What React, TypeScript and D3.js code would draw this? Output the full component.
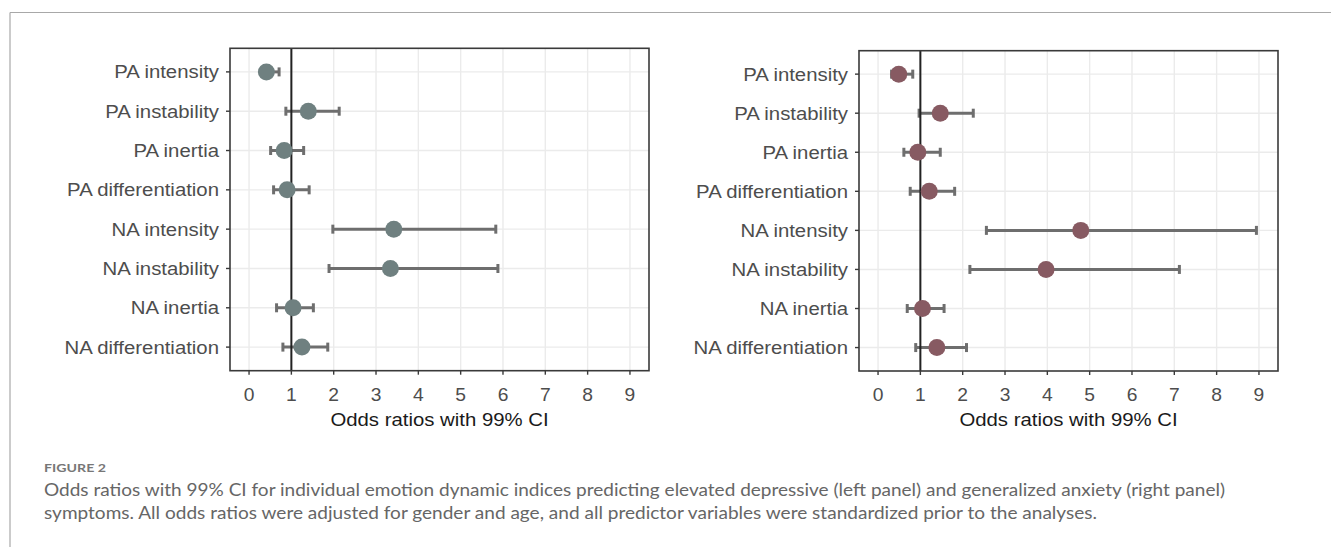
import React from 'react';
import * as d3 from 'd3';

// predictors, top to bottom
const categories = [
  'PA intensity',
  'PA instability',
  'PA inertia',
  'PA differentiation',
  'NA intensity',
  'NA instability',
  'NA inertia',
  'NA differentiation',
];

// left panel: elevated depressive symptoms
const depOR = [0.41, 1.4, 0.83, 0.9, 3.42, 3.34, 1.04, 1.25];
const depLow = [0.3, 0.87, 0.51, 0.58, 1.98, 1.89, 0.65, 0.8];
const depHigh = [0.71, 2.13, 1.29, 1.42, 5.83, 5.88, 1.52, 1.86];

// right panel: generalized anxiety symptoms
const anxOR = [0.49, 1.47, 0.94, 1.21, 4.79, 3.97, 1.05, 1.39];
const anxLow = [0.32, 0.97, 0.61, 0.76, 2.56, 2.17, 0.69, 0.89];
const anxHigh = [0.82, 2.25, 1.47, 1.81, 8.94, 7.12, 1.56, 2.09];

const xTicks = [0, 1, 2, 3, 4, 5, 6, 7, 8, 9];
const xTitle = 'Odds ratios with 99% CI';

const captionLabel = 'FIGURE 2';
const captionLine1 =
  'Odds ratios with 99% CI for individual emotion dynamic indices predicting elevated depressive (left panel) and generalized anxiety (right panel)';
const captionLine2 =
  'symptoms. All odds ratios were adjusted for gender and age, and all predictor variables were standardized prior to the analyses.';

const chartFont = '"Liberation Sans", Arial, sans-serif';
const STRETCH = 'scale(1.1,1)';

const Panel = ({ left, right, top, bottom, or, lo, hi, color }) => {
  const x = d3.scaleLinear().domain([-0.45, 9.45]).range([left, right]);
  const y = d3.scalePoint().domain(categories).range([top, bottom]).padding(0.6);

  return (
    <g fontFamily={chartFont}>
      {/* grid */}
      {xTicks.map(t => (
        <line key={'gx' + t} x1={x(t)} x2={x(t)} y1={top} y2={bottom} stroke="#ebebeb" strokeWidth={1.4} />
      ))}
      {categories.map(c => (
        <line key={'gy' + c} x1={left} x2={right} y1={y(c)} y2={y(c)} stroke="#ebebeb" strokeWidth={1.4} />
      ))}

      {/* error bars */}
      {categories.map((c, i) => (
        <g key={'eb' + c} stroke="#6e6e6e" strokeWidth={3}>
          <line x1={x(lo[i])} x2={x(hi[i])} y1={y(c)} y2={y(c)} />
          <line x1={x(lo[i])} x2={x(lo[i])} y1={y(c) - 4.5} y2={y(c) + 4.5} />
          <line x1={x(hi[i])} x2={x(hi[i])} y1={y(c) - 4.5} y2={y(c) + 4.5} />
        </g>
      ))}

      {/* reference line at OR = 1 */}
      <line x1={x(1)} x2={x(1)} y1={top} y2={bottom} stroke="#222" strokeWidth={2} />

      {/* points */}
      {categories.map((c, i) => (
        <circle key={'pt' + c} cx={x(or[i])} cy={y(c)} r={8.5} fill={color} />
      ))}

      {/* panel border */}
      <rect x={left} y={top} width={right - left} height={bottom - top} fill="none" stroke="#3a3a3a" strokeWidth={1.6} />

      {/* y axis */}
      {categories.map(c => (
        <g key={'yl' + c}>
          <line x1={left - 4} x2={left} y1={y(c)} y2={y(c)} stroke="#3a3a3a" strokeWidth={1.4} />
          <text
            transform={`translate(${left - 11},${y(c) + 6.5}) ${STRETCH}`}
            textAnchor="end"
            fontSize={18.5}
            fill="#4d4d4d"
          >
            {c}
          </text>
        </g>
      ))}

      {/* x axis */}
      {xTicks.map(t => (
        <g key={'xl' + t}>
          <line x1={x(t)} x2={x(t)} y1={bottom} y2={bottom + 4} stroke="#3a3a3a" strokeWidth={1.4} />
          <text transform={`translate(${x(t)},${bottom + 30}) ${STRETCH}`} textAnchor="middle" fontSize={17.5} fill="#4d4d4d">
            {t}
          </text>
        </g>
      ))}
      <text
        transform={`translate(${(left + right) / 2},${bottom + 55}) ${STRETCH}`}
        textAnchor="middle"
        fontSize={18.5}
        fill="#1a1a1a"
      >
        {xTitle}
      </text>
    </g>
  );
};

export default function App() {
  const W = 1331;
  const H = 547;
  return (
    <div style={{ position: 'absolute', left: 0, top: 0 }}>
      <svg width={W} height={H} style={{ display: 'block', background: '#fff' }}>
        {/* figure frame */}
        <line x1={10} x2={W} y1={12.5} y2={12.5} stroke="#a8a8a8" strokeWidth={1.2} />
        <line x1={10} x2={10} y1={12.5} y2={H} stroke="#a8a8a8" strokeWidth={1.2} />

        <Panel left={230} right={649} top={48.3} bottom={370.7} or={depOR} lo={depLow} hi={depHigh} color="#6f8080" />
        <Panel left={859} right={1278} top={50.7} bottom={371} or={anxOR} lo={anxLow} hi={anxHigh} color="#875a62" />

        {/* caption */}
        <g fontFamily="Lato, 'Open Sans', sans-serif">
          <text x={44} y={471.7} fontSize={11.5} fontWeight={700} fill="#777" textLength={62} lengthAdjust="spacingAndGlyphs">
            {captionLabel}
          </text>
          <text x={44} y={495.5} fontSize={16.5} fill="#666" textLength={1181} lengthAdjust="spacingAndGlyphs">
            {captionLine1}
          </text>
          <text x={44} y={519} fontSize={16.5} fill="#666" textLength={1053} lengthAdjust="spacingAndGlyphs">
            {captionLine2}
          </text>
        </g>
      </svg>
    </div>
  );
}
